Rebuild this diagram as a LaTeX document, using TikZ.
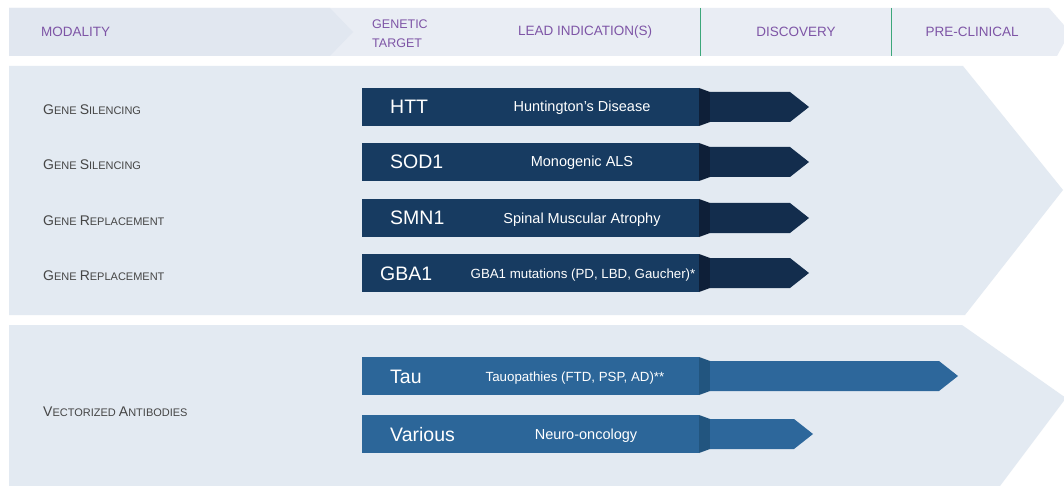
\documentclass[tikz,border=0pt]{standalone}
\usepackage{fontspec}
\setmainfont{Liberation Sans}
\definecolor{panelbg}{HTML}{E3EAF2}
\definecolor{hdrA}{HTML}{E1E7F0}
\definecolor{hdrB}{HTML}{E9EDF4}
\definecolor{hdrpurple}{HTML}{7E55A6}
\definecolor{modgray}{HTML}{454545}
\definecolor{sepgreen}{HTML}{3CA77A}
\definecolor{navyF}{HTML}{173B61}
\definecolor{navyB}{HTML}{0E1F38}
\definecolor{navyR}{HTML}{132D4D}
\definecolor{blueF}{HTML}{2C6699}
\definecolor{blueB}{HTML}{22557F}
\definecolor{blueR}{HTML}{2D679B}
\newcommand{\capl}[1]{{\fontsize{14}{15}\selectfont #1}}
\newcommand{\pipebar}[5]{%
  \fill[#3] (362,#1) rectangle (699,{#1+38});
  \fill[#4] (699,#1) -- (710,{#1+4}) -- (710,{#1+34}) -- (699,{#1+38}) -- cycle;
  \fill[#5] (710,{#1+4}) -- (#2,{#1+4}) -- ({#2+19},{#1+19}) -- (#2,{#1+34}) -- (710,{#1+34}) -- cycle;}
\begin{document}
\begin{tikzpicture}[x=1pt,y=-1pt,
  hdr/.style={text=hdrpurple,inner sep=0pt,font=\fontsize{13.5}{15}\selectfont},
  modl/.style={text=modgray,anchor=west,inner sep=0pt,font=\fontsize{11}{13}\selectfont},
  tgt/.style={text=white,anchor=base west,inner sep=0pt,font=\fontsize{19.5}{22}\selectfont},
  ind/.style={text=white,anchor=base,inner sep=0pt,font=\fontsize{14.5}{16}\selectfont},
  indsmall/.style={ind,font=\fontsize{13.3}{15}\selectfont},
  sep/.style={draw=sepgreen,line width=0.9pt}]
\useasboundingbox (0,0) rectangle (1064,486);
\fill[white] (0,0) rectangle (1064,486);
% header band
\fill[hdrB] (9,8) -- (1049,8) -- (1070,32) -- (1057,56) -- (9,56) -- cycle;
\fill[hdrA] (9,8) -- (330,8) -- (353,32) -- (330,56) -- (9,56) -- cycle;
\coordinate (g1t) at (700,8); \coordinate (g1b) at (700,56);
\coordinate (g2t) at (891,8); \coordinate (g2b) at (891,56);
\draw[sep] (g1t) -- (g1b);
\draw[sep] (g2t) -- (g2b);
\node[hdr,anchor=west] (hmod) at (41,32) {MODALITY};
\node[hdr,anchor=west,font=\fontsize{12.5}{14}\selectfont] (hgen) at (372,24) {GENETIC};
\node[hdr,anchor=west,font=\fontsize{12.5}{14}\selectfont] (htar) at (372,43) {TARGET};
\node[hdr] (hlead) at (585,32) {LEAD INDICATION(S)};
\node[hdr] (hdisc) at (796,32) {DISCOVERY};
\node[hdr] (hpre) at (972,32) {PRE-CLINICAL};
% panels
\fill[panelbg] (9,66) -- (963,66) -- (1063,190) -- (965,315) -- (9,315) -- cycle;
\fill[panelbg] (9,325) -- (962,325) -- (1066,398) -- (1000,486) -- (9,486) -- cycle;
% bars
\pipebar{88}{790}{navyF}{navyB}{navyR}
\pipebar{143}{790}{navyF}{navyB}{navyR}
\pipebar{199}{790}{navyF}{navyB}{navyR}
\pipebar{254}{790}{navyF}{navyB}{navyR}
\pipebar{357}{939}{blueF}{blueB}{blueR}
\pipebar{415}{794}{blueF}{blueB}{blueR}
% modality labels
\node[modl] (m1) at (43,110) {\capl{G}ENE \capl{S}ILENCING};
\node[modl] (m2) at (43,165) {\capl{G}ENE \capl{S}ILENCING};
\node[modl] (m3) at (43,221) {\capl{G}ENE \capl{R}EPLACEMENT};
\node[modl] (m4) at (43,276) {\capl{G}ENE \capl{R}EPLACEMENT};
\node[modl] (m5) at (43,412) {\capl{V}ECTORIZED \capl{A}NTIBODIES};
% targets
\node[tgt] (t1) at (390,114) {HTT};
\node[tgt] (t2) at (390,169) {SOD1};
\node[tgt] (t3) at (390,225) {SMN1};
\node[tgt] (t4) at (380,280) {GBA1};
\node[tgt] (t5) at (390,383) {Tau};
\node[tgt] (t6) at (390,441) {Various};
% indications
\node[ind] (i1) at (582,112) {Huntington’s Disease};
\node[ind] (i2) at (582,167) {Monogenic ALS};
\node[ind] (i3) at (582,223) {Spinal Muscular Atrophy};
\node[indsmall] (i4) at (583,278) {GBA1 mutations (PD, LBD, Gaucher)*};
\node[indsmall] (i5) at (575,381) {Tauopathies (FTD, PSP, AD)**};
\node[ind] (i6) at (586,439) {Neuro-oncology};
\end{tikzpicture}
\end{document}
